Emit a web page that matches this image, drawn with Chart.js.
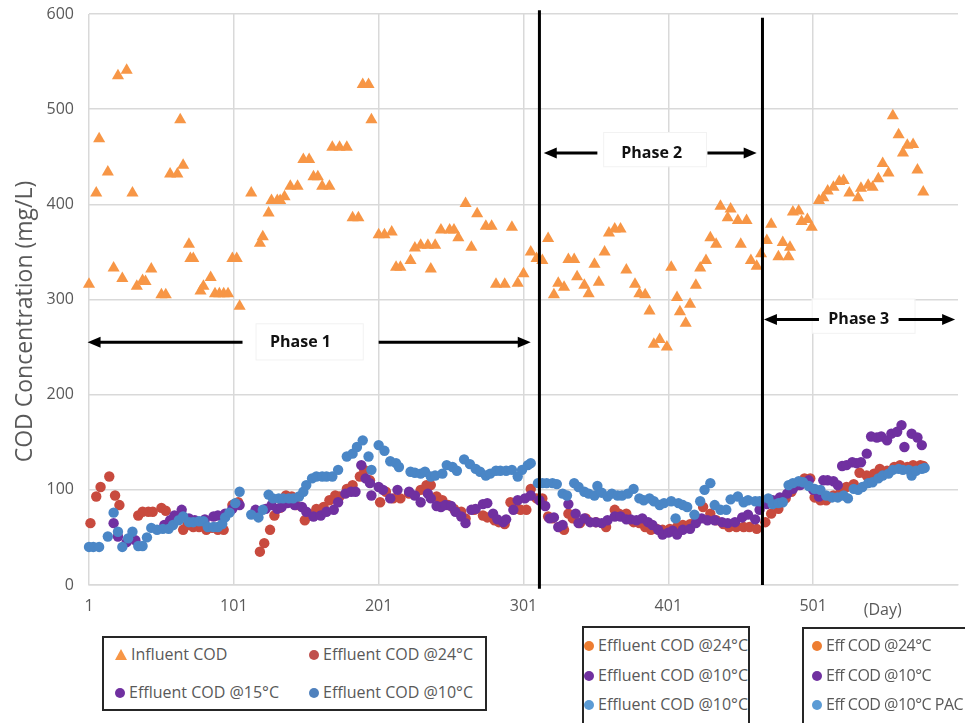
<!DOCTYPE html>
<html><head><meta charset="utf-8">
<script src="https://cdn.jsdelivr.net/npm/chart.js@4.4.1/dist/chart.umd.min.js"></script>
<style>
html,body{margin:0;padding:0;background:#fff;overflow:hidden;}
#wrap{position:relative;width:965px;height:723px;overflow:hidden;}
#c{position:absolute;left:0;top:0;}
.lg{position:absolute;border:2px solid #262626;background:#fff;box-sizing:border-box;font-family:'Open Sans',sans-serif;font-size:16px;color:#595959;overflow:hidden;}
.it{position:absolute;white-space:nowrap;line-height:20px;height:20px;}
.dot{display:inline-block;width:10px;height:10px;border-radius:50%;margin-right:4px;vertical-align:0px;}
.tri{display:inline-block;width:0;height:0;border-left:6px solid transparent;border-right:6px solid transparent;border-bottom:11px solid #F79646;margin-right:4px;vertical-align:0px;}
.narrow{letter-spacing:-0.5px;}
</style></head>
<body>
<div id="wrap">
<canvas id="c" width="965" height="723"></canvas>
<div class="lg" style="left:102px;top:636px;width:385px;height:75px;">
  <div class="it" style="left:11px;top:6px;"><span class="tri"></span>Influent COD</div>
  <div class="it" style="left:205px;top:6px;"><span class="dot" style="background:#C0504D"></span>Effluent COD @24°C</div>
  <div class="it" style="left:11px;top:44px;"><span class="dot" style="background:#7030A0"></span>Effluent COD @15°C</div>
  <div class="it" style="left:205px;top:44px;"><span class="dot" style="background:#4F81BD"></span>Effluent COD @10°C</div>
</div>
<div class="lg" style="left:582px;top:626px;width:168px;height:115px;">
  <div class="it" style="left:0px;top:7px;"><span class="dot" style="background:#ED7D31"></span>Effluent COD @24°C</div>
  <div class="it" style="left:0px;top:37px;"><span class="dot" style="background:#7030A0"></span>Effluent COD @10°C</div>
  <div class="it" style="left:0px;top:66px;"><span class="dot" style="background:#5B9BD5"></span>Effluent COD @10°C</div>
</div>
<div class="lg narrow" style="left:802px;top:627px;width:190px;height:115px;">
  <div class="it" style="left:8px;top:6px;"><span class="dot" style="background:#ED7D31"></span>Eff COD @24°C</div>
  <div class="it" style="left:8px;top:36px;"><span class="dot" style="background:#7030A0"></span>Eff COD @10°C</div>
  <div class="it" style="left:8px;top:65px;"><span class="dot" style="background:#5B9BD5"></span>Eff COD @10°C PAC</div>
</div>
</div>
<script>
// ---------------- DATA ----------------
const xTicks = [1, 101, 201, 301, 401, 501, 601];
const xTickLabels = ['1', '101', '201', '301', '401', '501', ''];
const yTicks = [0, 100, 200, 300, 400, 500, 600];

const influentDays = [1,6,8,14,18,21,24,27,31,34,38,40,44,51,54,57,62,64,66,70,71,73,78,80,85,88,91,94,97,100,103,105,113,119,121,125,127,131,133,136,140,145,149,153,156,159,162,167,169,174,179,183,187,190,194,196,201,205,210,213,216,223,226,230,235,237,240,244,250,253,256,261,265,269,275,279,282,288,293,297,301,306,310,314,318,322,325,329,332,336,338,343,346,350,353,357,360,364,368,372,378,381,385,388,391,395,400,403,407,409,413,416,420,423,427,430,434,437,442,444,449,451,455,458,462,465,469,472,477,480,484,485,487,491,493,497,500,505,508,511,515,519,522,526,532,534,539,542,546,549,553,556,560,563,566,570,573,577];
const influentCOD = [316,412,469,434,333,535,322,541,412,314,320,319,332,305,305,432,432,489,441,358,343,343,309,314,323,306,306,306,306,343,343,293,412,359,366,391,404,404,404,408,419,419,447,447,429,429,419,419,460,460,460,386,386,526,526,489,368,368,371,334,334,341,354,357,357,332,357,373,373,373,365,401,355,390,377,377,316,316,376,317,327,350,343,341,364,305,317,313,342,342,324,315,306,337,318,350,370,374,374,331,316,306,305,288,253,258,250,334,302,287,275,295,315,333,341,365,358,398,386,395,383,358,383,341,335,348,362,379,345,360,345,355,392,393,382,384,376,404,407,414,418,424,425,412,407,417,420,418,427,443,433,493,473,454,462,463,436,413];

const eff24Days = [2,6,9,15,19,22,35,38,42,45,51,54,66,69,73,77,82,86,90,94,100,104,119,122,126,129,133,137,141,144,150,153,158,163,167,171,174,179,183,188,191,195,202,206,211,216,222,230,234,237,241,245,249,253,258,261,267,273,276,281,284,288,292,296,299,303,306,310,314,318,321,326,329,332,335,340,344,351,358,364,367,372,377,381,385,389,393,397,402,407,411,416,420,425,430,434,439,443,448,453,457,462,468,472,477,482,486,491,495,499,502,506,510,515,520,524,529,533,538,543,547,552,557,561,566,570,575,577];
const eff24COD = [65,93,103,114,94,84,73,77,77,77,81,78,58,63,61,61,58,60,58,58,84,87,35,44,58,73,81,94,93,84,68,75,80,82,89,94,93,101,105,114,121,110,87,98,91,91,96,100,105,105,93,89,84,80,77,70,79,73,71,68,66,64,87,80,79,79,101,91,91,72,70,61,58,75,70,65,70,66,61,79,75,75,66,65,61,58,59,58,59,61,63,64,71,82,75,68,64,61,61,61,61,59,66,75,80,91,98,105,112,112,92,89,89,94,98,103,106,118,115,117,122,120,124,126,124,126,126,125];

const eff15Days = [18,21,27,33,53,57,60,65,70,74,81,87,90,95,100,105,116,123,127,131,134,138,143,148,151,156,161,165,170,173,178,182,185,189,192,195,196,201,204,209,214,222,226,230,235,237,241,244,247,251,254,258,261,265,268,273,276,280,283,287,289,294,297,302,306,312,316,319,322,325,328,332,337,339,343,347,351,355,359,364,368,372,375,379,383,387,390,394,397,401,404,407,411,416,420,424,428,433,438,442,447,452,456,461,464,469,473,478,483,487,492,498,501,505,508,511,515,518,521,524,528,531,534,538,541,545,548,552,555,559,562,564,569,573,576];
const eff15COD = [65,51,45,47,63,68,73,79,70,68,69,72,73,75,80,84,79,80,84,80,82,86,84,82,77,72,73,77,79,87,96,98,98,126,112,107,94,103,100,91,100,98,94,87,96,91,83,82,84,83,77,72,65,79,80,85,86,75,69,66,69,79,89,91,94,89,83,70,71,61,63,85,75,65,70,66,66,65,68,72,72,69,69,68,70,66,63,58,53,55,57,53,58,59,65,70,68,68,66,65,66,71,74,69,79,85,89,92,96,101,105,110,100,93,110,110,109,105,125,126,129,128,129,138,156,155,156,152,159,161,168,145,159,155,147];

const eff10Days = [1,4,8,14,18,21,24,28,31,35,38,41,44,48,52,56,59,63,66,70,73,77,80,83,87,90,93,95,98,102,105,113,118,121,125,128,132,135,139,142,146,149,151,155,158,162,165,169,173,179,183,186,190,194,196,201,205,209,213,215,223,226,230,233,237,240,245,248,252,255,260,264,268,271,275,278,282,285,289,293,297,300,304,306,311,314,317,321,324,328,331,336,339,343,346,350,352,355,359,362,366,369,373,377,381,384,388,391,395,398,403,406,408,411,414,419,423,426,430,433,437,441,444,449,453,456,461,464,470,473,477,480,484,487,491,494,498,502,506,510,514,518,522,525,529,532,535,539,542,546,549,553,556,560,563,567,569,572,576,578];
const eff10COD = [40,40,40,51,76,56,40,49,56,41,41,50,60,58,59,59,63,68,72,66,66,67,67,61,61,61,64,71,76,86,98,74,71,79,95,91,91,91,91,91,93,98,105,112,114,114,114,114,121,135,138,145,152,135,121,147,141,130,128,124,119,118,117,119,114,115,117,126,124,120,132,127,122,119,115,117,120,120,120,121,114,121,126,128,107,107,107,107,106,96,94,107,103,98,96,94,104,97,93,96,94,94,96,101,91,89,91,88,84,86,88,70,86,84,82,74,88,100,107,84,79,79,90,93,87,89,88,88,91,85,86,87,105,107,109,108,104,101,100,94,92,92,94,91,101,100,103,107,108,112,115,117,121,122,121,121,115,120,122,123];

// Phase annotations (day / COD coordinates)
const phaseLines = [{day: 312, top: 604, bottom: -4}, {day: 466, top: 596, bottom: 0}];
const phaseLabels = [
  {text: 'Phase 1', y: 255, leftTip: 0, leftEnd: 107, rightStart: 201, rightTip: 306, center: 147, box: [116, 190, 275, 237]},
  {text: 'Phase 2', y: 454, leftTip: 315, leftEnd: 352, rightStart: 428, rightTip: 462, center: 389.5, box: [356, 427, 476, 440]},
  {text: 'Phase 3', y: 279, leftTip: 467, leftEnd: 505, rightStart: 560, rightTip: 599, center: 532.5, box: [500, 571, 301, 265]}
];

// ---------------- CHART ----------------
const pts = (xs, ys) => xs.map((d, i) => ({x: d, y: ys[i]}));
const FONT = "'Open Sans', sans-serif";

const overlay = {
  id: 'overlay',
  afterDatasetsDraw(chart) {
    const {ctx, scales: {x, y}, chartArea} = chart;
    ctx.save();
    phaseLabels.forEach(p => {
      const bx1 = x.getPixelForValue(p.box[0]), bx2 = x.getPixelForValue(p.box[1]);
      const by1 = y.getPixelForValue(p.box[2]), by2 = y.getPixelForValue(p.box[3]);
      ctx.fillStyle = '#fff';
      ctx.fillRect(bx1, by1, bx2 - bx1, by2 - by1);
      ctx.strokeStyle = '#f2f2f2'; ctx.lineWidth = 1;
      ctx.strokeRect(bx1 + 0.5, by1 + 0.5, bx2 - bx1, by2 - by1);
      const py = y.getPixelForValue(p.y);
      arrow(ctx, x.getPixelForValue(p.leftEnd), x.getPixelForValue(p.leftTip), py);
      arrow(ctx, x.getPixelForValue(p.rightStart), x.getPixelForValue(p.rightTip), py);
      ctx.fillStyle = '#111';
      ctx.font = "bold 16px " + FONT;
      ctx.textAlign = 'center'; ctx.textBaseline = 'middle';
      ctx.fillText(p.text, x.getPixelForValue(p.center), py);
    });
    ctx.strokeStyle = '#000'; ctx.lineWidth = 3;
    phaseLines.forEach(p => {
      const px = x.getPixelForValue(p.day);
      ctx.beginPath();
      ctx.moveTo(px, y.getPixelForValue(p.top));
      ctx.lineTo(px, y.getPixelForValue(p.bottom));
      ctx.stroke();
    });
    ctx.fillStyle = '#595959';
    ctx.font = "23px " + FONT;
    ctx.textAlign = 'center'; ctx.textBaseline = 'middle';
    ctx.translate(25, (chartArea.top + chartArea.bottom) / 2 + 22);
    ctx.rotate(-Math.PI / 2);
    ctx.fillText('COD Concentration (mg/L)', 0, 0);
    ctx.restore();
    ctx.save();
    ctx.fillStyle = '#595959';
    ctx.font = "16px " + FONT;
    ctx.textAlign = 'center'; ctx.textBaseline = 'middle';
    ctx.fillText('(Day)', x.getPixelForValue(549), chartArea.bottom + 25);
    ctx.restore();
  }
};
function arrow(ctx, x1, x2, yy) {
  const dir = x2 > x1 ? 1 : -1;
  const hl = 13, hw = 5.5;
  ctx.strokeStyle = '#000'; ctx.fillStyle = '#000'; ctx.lineWidth = 3;
  ctx.beginPath(); ctx.moveTo(x1, yy); ctx.lineTo(x2 - dir * hl * 0.8, yy); ctx.stroke();
  ctx.beginPath();
  ctx.moveTo(x2, yy);
  ctx.lineTo(x2 - dir * hl, yy - hw);
  ctx.lineTo(x2 - dir * hl, yy + hw);
  ctx.closePath(); ctx.fill();
}

const circ = (label, xs, ys, color, order) => ({
  label, data: pts(xs, ys), backgroundColor: color, borderWidth: 0,
  pointRadius: 5.2, pointStyle: 'circle', order, clip: false
});

new Chart(document.getElementById('c'), {
  type: 'scatter',
  data: {
    datasets: [
      {label: 'Influent COD', data: pts(influentDays, influentCOD), backgroundColor: '#F79646', borderWidth: 0,
       pointStyle: 'triangle', pointRadius: 7, order: 0, clip: false},
      circ('Effluent COD @10°C', eff10Days, eff10COD, '#4A86C6', 1),
      circ('Effluent COD @15°C', eff15Days, eff15COD, '#7030A0', 2),
      circ('Effluent COD @24°C', eff24Days, eff24COD, '#C84A3E', 3)
    ]
  },
  options: {
    responsive: false, animation: false, devicePixelRatio: 1,
    layout: {padding: {left: 0, right: 7, top: 14, bottom: 0}},
    plugins: {legend: {display: false}, tooltip: {enabled: false}},
    scales: {
      x: {
        type: 'linear', min: 1, max: 601,
        afterBuildTicks: s => { s.ticks = xTicks.map(v => ({value: v})); },
        afterFit: s => { s.height = 138; s.paddingLeft = 0; s.paddingRight = 0; },
        ticks: {callback: (v) => xTickLabels[xTicks.indexOf(v)], color: '#595959', font: {family: FONT, size: 16},
                padding: 12, maxRotation: 0, autoSkip: false},
        grid: {color: c => (c.tick && c.tick.value === 601) ? 'rgba(0,0,0,0)' : '#d9d9d9', drawTicks: false, lineWidth: 1.5},
        border: {display: true, color: '#d9d9d9', width: 1.5}
      },
      y: {
        min: 0, max: 600,
        afterBuildTicks: s => { s.ticks = yTicks.map(v => ({value: v})); },
        afterFit: s => { s.width = 89; s.paddingTop = 0; s.paddingBottom = 0; },
        ticks: {color: '#595959', font: {family: FONT, size: 16}, padding: 15},
        grid: {color: '#d9d9d9', drawTicks: false, lineWidth: 1.5},
        border: {display: false}
      }
    }
  },
  plugins: [overlay]
});
</script>
</body></html>
